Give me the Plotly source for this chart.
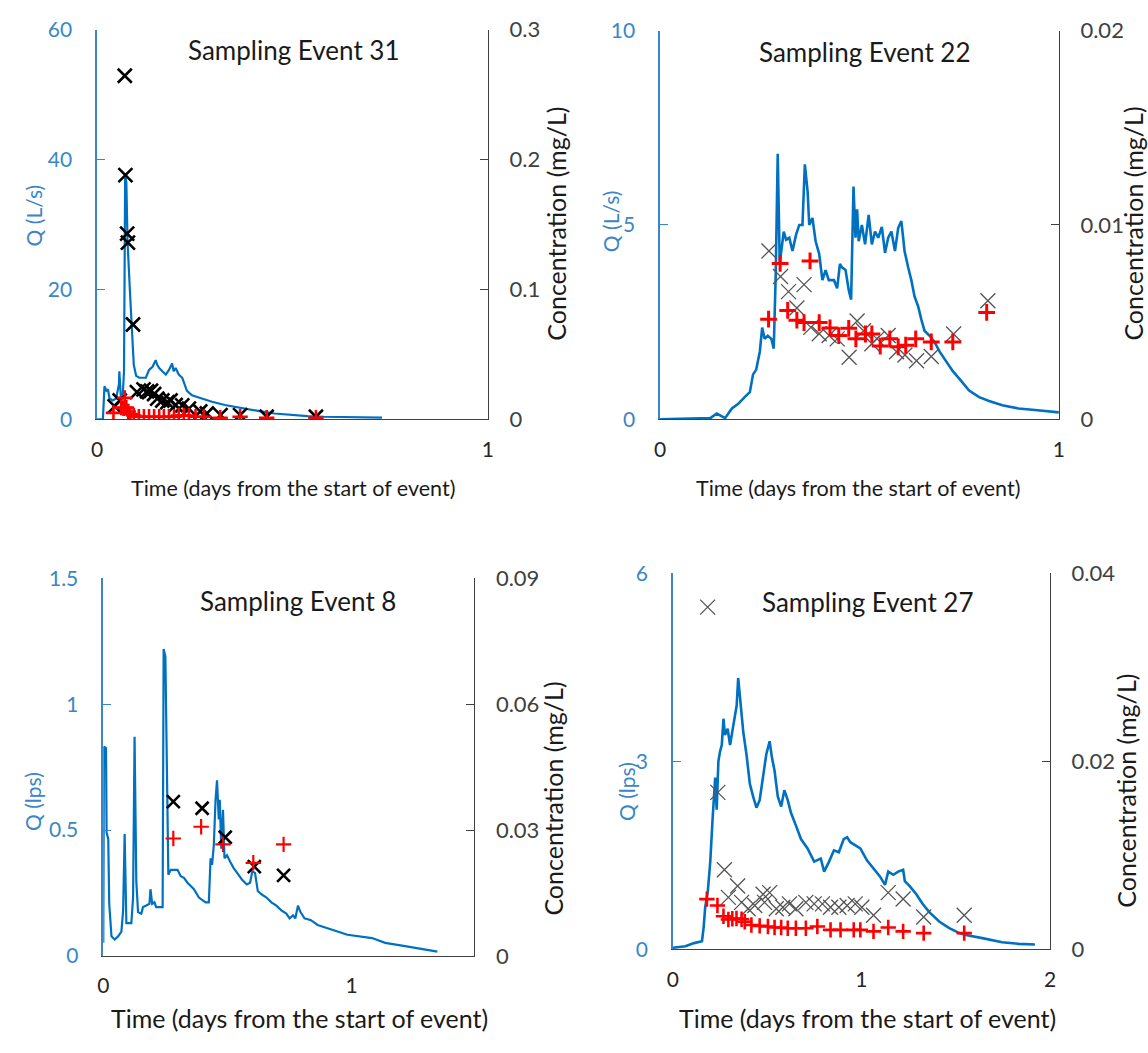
import plotly.graph_objects as go

# ---------------- DATA ----------------
# Sampling Event 31
ev31_t = [0.0, 0.015, 0.019, 0.024, 0.028, 0.032, 0.040, 0.049, 0.056, 0.057, 0.061, 0.066, 0.069, 0.072, 0.075, 0.078, 0.084, 0.090, 0.094, 0.100, 0.108, 0.125, 0.133, 0.142, 0.150, 0.154, 0.159, 0.167, 0.176, 0.184, 0.192, 0.196, 0.201, 0.209, 0.218, 0.230, 0.243, 0.268, 0.294, 0.327, 0.370, 0.412, 0.454, 0.496, 0.538, 0.580, 0.650, 0.729]
ev31_q = [0.0, 0.0, 5.1, 4.4, 4.6, 3.2, 2.9, 3.2, 5.4, 7.4, 3.4, 4.0, 7.4, 37.9, 36.4, 27.4, 19.9, 13.4, 8.4, 6.7, 6.4, 6.4, 7.6, 8.1, 9.1, 8.4, 7.9, 7.4, 6.9, 7.6, 8.6, 7.4, 7.9, 6.9, 6.4, 4.4, 3.7, 3.2, 2.7, 2.2, 1.7, 1.3, 0.9, 0.65, 0.5, 0.4, 0.35, 0.25]
ev31_xt = [0.045, 0.058, 0.071, 0.0726, 0.077, 0.079, 0.092, 0.102, 0.119, 0.128, 0.138, 0.146, 0.154, 0.167, 0.180, 0.188, 0.201, 0.218, 0.235, 0.264, 0.281, 0.316, 0.366, 0.434, 0.560]
ev31_xc = [0.010, 0.0145, 0.2645, 0.188, 0.143, 0.136, 0.073, 0.021, 0.023, 0.0215, 0.022, 0.0195, 0.016, 0.0145, 0.0133, 0.0145, 0.011, 0.0107, 0.0083, 0.006, 0.0045, 0.0033, 0.0033, 0.002, 0.002]
ev31_pt = [0.042, 0.062, 0.068, 0.071, 0.075, 0.080, 0.085, 0.094, 0.107, 0.120, 0.133, 0.146, 0.159, 0.171, 0.184, 0.197, 0.209, 0.222, 0.235, 0.252, 0.273, 0.315, 0.366, 0.434, 0.560]
ev31_pc = [0.005, 0.009, 0.0085, 0.0165, 0.009, 0.006, 0.004, 0.003, 0.002, 0.002, 0.002, 0.002, 0.002, 0.002, 0.002, 0.002, 0.003, 0.003, 0.003, 0.002, 0.002, 0.0012, 0.002, 0.0012, 0.0012]

# Sampling Event 22
ev22_t = [0.0, 0.08, 0.126, 0.142, 0.163, 0.18, 0.196, 0.212, 0.225, 0.233, 0.241, 0.25, 0.256, 0.262, 0.27, 0.279, 0.285, 0.29, 0.295, 0.30, 0.304, 0.31, 0.316, 0.324, 0.332, 0.341, 0.349, 0.357, 0.363, 0.37, 0.374, 0.382, 0.39, 0.399, 0.407, 0.415, 0.423, 0.436, 0.444, 0.451, 0.456, 0.465, 0.473, 0.479, 0.485, 0.49, 0.494, 0.498, 0.506, 0.514, 0.523, 0.531, 0.539, 0.547, 0.556, 0.564, 0.572, 0.58, 0.589, 0.597, 0.605, 0.613, 0.622, 0.63, 0.638, 0.647, 0.655, 0.663, 0.676, 0.688, 0.701, 0.717, 0.734, 0.755, 0.775, 0.80, 0.825, 0.858, 0.899, 0.94, 0.973, 1.0]
ev22_q = [0.0, 0.03, 0.03, 0.15, 0.03, 0.28, 0.4, 0.57, 0.7, 1.15, 1.28, 1.74, 2.36, 2.07, 2.15, 2.07, 1.82, 3.74, 6.83, 4.0, 4.33, 4.83, 4.62, 4.67, 4.33, 4.75, 5.0, 5.0, 6.56, 5.85, 5.0, 5.18, 4.58, 4.25, 3.58, 3.84, 3.58, 3.58, 3.37, 4.0, 3.91, 3.84, 3.33, 3.08, 5.99, 4.67, 5.4, 4.58, 5.0, 4.5, 5.26, 4.5, 4.83, 4.67, 4.95, 4.28, 4.67, 4.83, 4.33, 4.92, 5.1, 4.33, 3.91, 3.58, 3.16, 2.91, 2.57, 2.28, 2.15, 1.99, 1.74, 1.49, 1.24, 0.99, 0.74, 0.57, 0.47, 0.36, 0.28, 0.24, 0.2, 0.18]
ev22_xt = [0.273, 0.302, 0.322, 0.343, 0.361, 0.378, 0.399, 0.424, 0.444, 0.474, 0.494, 0.510, 0.531, 0.544, 0.572, 0.593, 0.614, 0.643, 0.680, 0.736, 0.822]
ev22_xc = [0.00866, 0.00735, 0.00657, 0.00573, 0.00693, 0.00473, 0.0044, 0.00431, 0.00414, 0.00319, 0.00506, 0.00456, 0.00389, 0.00414, 0.00431, 0.00348, 0.00331, 0.00301, 0.00323, 0.00439, 0.0061]
ev22_pt = [0.272, 0.301, 0.376, 0.320, 0.343, 0.361, 0.399, 0.426, 0.448, 0.473, 0.491, 0.515, 0.531, 0.552, 0.576, 0.597, 0.616, 0.641, 0.680, 0.734, 0.819]
ev22_pc = [0.00515, 0.00802, 0.00815, 0.0056, 0.0051, 0.00498, 0.00498, 0.0047, 0.00431, 0.00468, 0.00414, 0.00439, 0.00439, 0.00377, 0.00414, 0.00373, 0.00381, 0.00414, 0.00398, 0.00398, 0.0055]

# Sampling Event 8
ev8_t = [0.0, 0.0027, 0.011, 0.0134, 0.02, 0.024, 0.033, 0.046, 0.06, 0.073, 0.08, 0.086, 0.093, 0.113, 0.12, 0.126, 0.133, 0.14, 0.153, 0.16, 0.173, 0.186, 0.19, 0.197, 0.206, 0.213, 0.239, 0.243, 0.25, 0.256, 0.262, 0.272, 0.299, 0.312, 0.325, 0.339, 0.365, 0.385, 0.412, 0.425, 0.432, 0.438, 0.445, 0.452, 0.458, 0.465, 0.469, 0.475, 0.482, 0.488, 0.498, 0.511, 0.525, 0.544, 0.558, 0.578, 0.591, 0.60, 0.611, 0.622, 0.637, 0.657, 0.677, 0.697, 0.717, 0.737, 0.75, 0.764, 0.773, 0.784, 0.794, 0.81, 0.836, 0.863, 0.903, 0.943, 0.983, 1.082, 1.135, 1.215, 1.295, 1.345]
ev8_q = [0.052, 0.832, 0.826, 0.49, 0.465, 0.207, 0.078, 0.065, 0.078, 0.097, 0.181, 0.484, 0.13, 0.13, 0.232, 0.871, 0.297, 0.174, 0.168, 0.194, 0.2, 0.207, 0.265, 0.207, 0.213, 0.194, 0.194, 1.22, 1.19, 0.749, 0.323, 0.342, 0.342, 0.317, 0.31, 0.291, 0.265, 0.232, 0.213, 0.213, 0.388, 0.362, 0.439, 0.62, 0.698, 0.542, 0.62, 0.426, 0.581, 0.388, 0.4, 0.374, 0.349, 0.323, 0.304, 0.284, 0.291, 0.336, 0.33, 0.258, 0.245, 0.232, 0.213, 0.2, 0.181, 0.168, 0.149, 0.161, 0.149, 0.2, 0.174, 0.149, 0.142, 0.123, 0.11, 0.097, 0.084, 0.071, 0.052, 0.039, 0.026, 0.017]
ev8_xt = [0.282, 0.398, 0.491, 0.608, 0.726]
ev8_xc = [0.0368, 0.0352, 0.0283, 0.0213, 0.0192]
ev8_pt = [0.282, 0.394, 0.482, 0.604, 0.726]
ev8_pc = [0.028, 0.0308, 0.0266, 0.0222, 0.0266]

# Sampling Event 27
ev27_t = [0.0, 0.066, 0.112, 0.154, 0.163, 0.171, 0.185, 0.198, 0.21, 0.224, 0.232, 0.241, 0.25, 0.259, 0.268, 0.276, 0.29, 0.303, 0.32, 0.338, 0.346, 0.36, 0.373, 0.39, 0.408, 0.425, 0.443, 0.46, 0.478, 0.495, 0.513, 0.525, 0.539, 0.556, 0.574, 0.591, 0.609, 0.626, 0.653, 0.679, 0.714, 0.749, 0.784, 0.802, 0.828, 0.854, 0.88, 0.906, 0.924, 0.941, 0.968, 0.994, 1.029, 1.064, 1.099, 1.125, 1.142, 1.169, 1.195, 1.221, 1.23, 1.256, 1.291, 1.326, 1.361, 1.414, 1.466, 1.519, 1.554, 1.641, 1.746, 1.834, 1.92]
ev27_q = [0.026, 0.05, 0.1, 0.13, 0.36, 0.67, 0.93, 1.4, 2.07, 2.74, 2.23, 3.0, 3.16, 3.26, 3.68, 3.42, 3.52, 3.26, 3.57, 3.89, 4.33, 3.94, 3.47, 3.11, 2.64, 2.44, 2.26, 2.38, 2.8, 3.11, 3.32, 3.06, 2.85, 2.44, 2.28, 2.54, 2.38, 2.18, 1.97, 1.76, 1.61, 1.4, 1.45, 1.24, 1.4, 1.58, 1.55, 1.76, 1.79, 1.71, 1.66, 1.61, 1.42, 1.29, 1.16, 1.03, 1.24, 1.19, 1.24, 1.27, 1.09, 1.01, 0.88, 0.72, 0.59, 0.44, 0.34, 0.26, 0.23, 0.18, 0.114, 0.088, 0.078]
ev27_xt = [0.184, 0.238, 0.273, 0.294, 0.343, 0.364, 0.399, 0.434, 0.478, 0.486, 0.513, 0.548, 0.583, 0.618, 0.652, 0.705, 0.749, 0.793, 0.836, 0.880, 0.924, 0.967, 1.002, 1.064, 1.142, 1.221, 1.330, 1.545]
ev27_xc = [0.0364, 0.0167, 0.00847, 0.00553, 0.00674, 0.005, 0.00432, 0.00466, 0.00587, 0.005, 0.00604, 0.00432, 0.00449, 0.00484, 0.00432, 0.005, 0.00484, 0.00484, 0.00449, 0.00449, 0.00466, 0.00484, 0.00449, 0.00363, 0.00604, 0.00535, 0.00345, 0.00363]
ev27_pt = [0.18, 0.236, 0.268, 0.294, 0.315, 0.337, 0.364, 0.381, 0.416, 0.46, 0.504, 0.539, 0.574, 0.609, 0.652, 0.705, 0.766, 0.836, 0.889, 0.959, 0.994, 1.064, 1.142, 1.221, 1.33, 1.545]
ev27_pc = [0.00535, 0.00466, 0.00352, 0.00318, 0.00325, 0.00328, 0.00321, 0.00294, 0.0026, 0.0025, 0.00243, 0.00232, 0.00232, 0.00225, 0.00225, 0.00225, 0.00243, 0.00208, 0.00208, 0.00208, 0.00208, 0.00191, 0.00232, 0.00191, 0.00173, 0.00173]

titles = ["Sampling Event 31", "Sampling Event 22", "Sampling Event 8", "Sampling Event 27"]
q_titles = ["Q (L/s)", "Q (L/s)", "Q (lps)", "Q (lps)"]
q_ticks = [[0, 20, 40, 60], [0, 5, 10], [0, 0.5, 1, 1.5], [0, 3, 6]]
q_ticktext = [["0", "20", "40", "60"], ["0", "5", "10"], ["0", "0.5", "1", "1.5"], ["0", "3", "6"]]
c_ticks = [[0, 0.1, 0.2, 0.3], [0, 0.01, 0.02], [0, 0.03, 0.06, 0.09], [0, 0.02, 0.04]]
c_ticktext = [["0", "0.1", "0.2", "0.3"], ["0", "0.01", "0.02"], ["0", "0.03", "0.06", "0.09"], ["0", "0.02", "0.04"]]
t_ticks = [[0, 1], [0, 1], [0, 1], [0, 1, 2]]
t_ranges = [[0, 1], [0, 1], [0, 1.494], [0, 2]]

# ---------------- LAYOUT GEOMETRY (pixels) ----------------
W, H = 1148, 1053
boxes = [(92, 487, 16, 416), (661, 1064, 17, 416), (98.3, 473.3, 579.3, 966.7), (674, 1055, 574, 960)]

def px(x):
    return x / W

def py(y):
    return 1 - y / H

BLUE_LINE = "#0070C0"
BLUE_AX = "#3B86C6"
DARK = "#404040"
FONT = "Lato"

fig = go.Figure()

events = [
    (ev31_t, ev31_q, ev31_xt, ev31_xc, ev31_pt, ev31_pc),
    (ev22_t, ev22_q, ev22_xt, ev22_xc, ev22_pt, ev22_pc),
    (ev8_t, ev8_q, ev8_xt, ev8_xc, ev8_pt, ev8_pc),
    (ev27_t, ev27_q, ev27_xt, ev27_xc, ev27_pt, ev27_pc),
]
x_styles = [
    dict(color="black", width=2.6, size=14),
    dict(color="#555555", width=1.3, size=15),
    dict(color="black", width=2.6, size=13),
    dict(color="#555555", width=1.3, size=15),
]
p_styles = [
    dict(width=2.6, size=11),
    dict(width=3.0, size=12),
    dict(width=2.2, size=11),
    dict(width=2.6, size=11),
]
line_w = [2.2, 2.6, 2.2, 2.6]

annotations = []
for i, (tq, q, xt, xc, pt, pc) in enumerate(events):
    n = i + 1
    xa = "x" if n == 1 else f"x{n}"
    yl = 2 * i + 1
    yr = 2 * i + 2
    yla = "y" if yl == 1 else f"y{yl}"
    yra = f"y{yr}"
    fig.add_trace(go.Scatter(x=tq, y=q, mode="lines", line=dict(color=BLUE_LINE, width=line_w[i]),
                             xaxis=xa, yaxis=yla, showlegend=False))
    fig.add_trace(go.Scatter(x=xt, y=xc, mode="markers", xaxis=xa, yaxis=yra, showlegend=False,
                             marker=dict(symbol="x-thin-open", size=x_styles[i]["size"], color=x_styles[i]["color"],
                                         line=dict(color=x_styles[i]["color"], width=x_styles[i]["width"]))))
    fig.add_trace(go.Scatter(x=pt, y=pc, mode="markers", xaxis=xa, yaxis=yra, showlegend=False,
                             marker=dict(symbol="cross-thin-open", size=p_styles[i]["size"], color="#FF0000",
                                         line=dict(color="#FF0000", width=p_styles[i]["width"]))))

    l, r, t, b = boxes[i]
    xkey = "xaxis" if n == 1 else f"xaxis{n}"
    ylkey = "yaxis" if yl == 1 else f"yaxis{yl}"
    yrkey = f"yaxis{yr}"
    fig.layout[xkey] = dict(domain=[px(l), px(r)], anchor=yla, range=t_ranges[i],
                            tickvals=t_ticks[i], ticks="", showgrid=False, zeroline=False,
                            showline=True, linecolor=DARK, linewidth=1.3,
                            tickfont=dict(family=FONT, size=21, color="#262626"),
                            ticklabelstandoff=11)
    fig.layout[ylkey] = dict(domain=[py(b), py(t)], anchor=xa, range=[0, q_ticks[i][-1]],
                             tickvals=q_ticks[i], ticktext=q_ticktext[i],
                             ticks="inside", ticklen=8, tickcolor=BLUE_AX, tickwidth=1.3,
                             showline=True, linecolor=BLUE_AX, linewidth=1.5,
                             showgrid=False, zeroline=False,
                             tickfont=dict(family=FONT, size=21, color=BLUE_AX),
                             ticklabelstandoff=19)
    fig.layout[yrkey] = dict(overlaying=yla, anchor=xa, side="right", range=[0, c_ticks[i][-1]],
                             tickvals=c_ticks[i], ticktext=c_ticktext[i],
                             ticks="inside", ticklen=8, tickcolor=DARK, tickwidth=1.3,
                             showline=True, linecolor=DARK, linewidth=1.3,
                             showgrid=False, zeroline=False,
                             tickfont=dict(family=FONT, size=22, color=DARK),
                             ticklabelstandoff=16)

# annotation positions in pixels
title_pos = [(291, 37), (868, 39), (295, 602), (871, 603)]
qt_pos = [(28, 207), (611, 213), (27, 808), (627, 798)]
ct_pos = [(556, 215), (1139, 215), (553, 805), (1131, 797)]
xt_pos = [(290, 486), (861, 486), (297, 1030), (871, 1030)]
xt_size = [21.5, 21.5, 25, 25]

for i in range(4):
    annotations.append(dict(text=titles[i], x=px(title_pos[i][0]), y=py(title_pos[i][1]), xref="paper", yref="paper",
                            showarrow=False, xanchor="center", yanchor="middle",
                            font=dict(family=FONT, size=26, color="#1a1a1a")))
    annotations.append(dict(text=q_titles[i], x=px(qt_pos[i][0]), y=py(qt_pos[i][1]), xref="paper", yref="paper",
                            showarrow=False, xanchor="center", yanchor="middle", textangle=-90,
                            font=dict(family=FONT, size=21, color=BLUE_AX)))
    annotations.append(dict(text="Concentration (mg/L)", x=px(ct_pos[i][0]), y=py(ct_pos[i][1]), xref="paper", yref="paper",
                            showarrow=False, xanchor="center", yanchor="middle", textangle=-90,
                            font=dict(family=FONT, size=25, color="#1a1a1a")))
    annotations.append(dict(text="Time (days from the start of event)", x=px(xt_pos[i][0]), y=py(xt_pos[i][1]),
                            xref="paper", yref="paper", showarrow=False, xanchor="center", yanchor="middle",
                            font=dict(family=FONT, size=xt_size[i], color="#1a1a1a")))

fig.update_layout(width=W, height=H, margin=dict(l=0, r=0, t=0, b=0),
                  paper_bgcolor="white", plot_bgcolor="white",
                  annotations=annotations, showlegend=False)

fig.write_html("out.html")
